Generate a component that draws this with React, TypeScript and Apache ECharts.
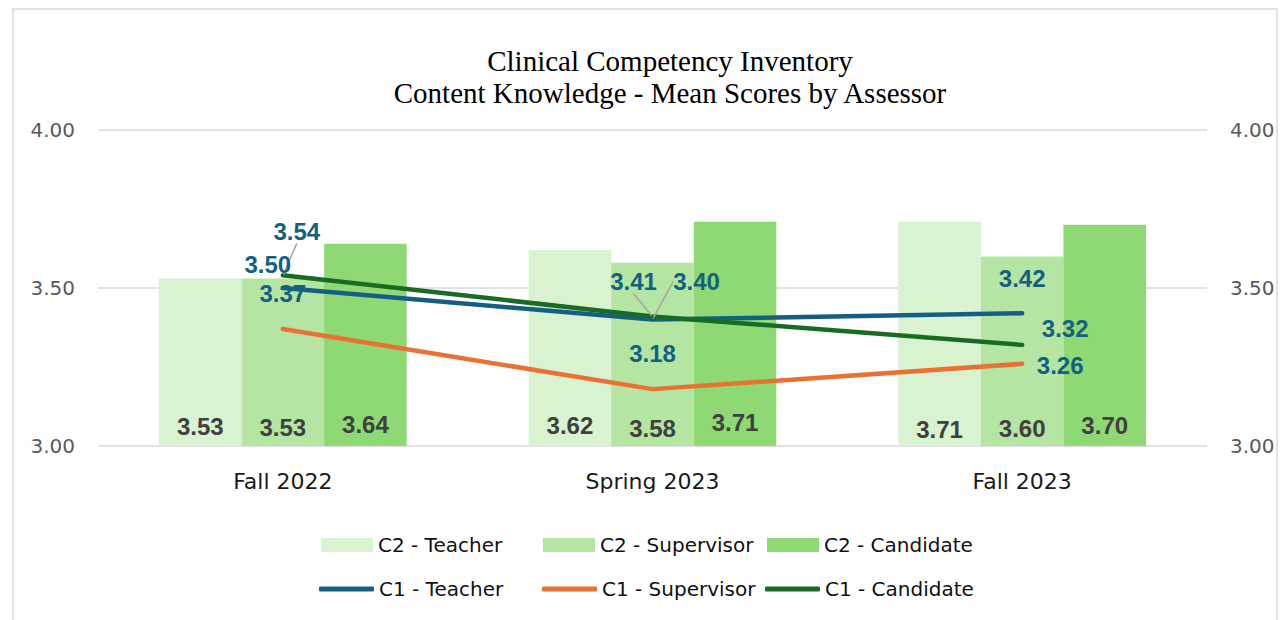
import React, { useEffect, useRef } from "react";
import * as echarts from "echarts";

const categories = ["Fall 2022", "Spring 2023", "Fall 2023"];
const c2Teacher = [3.53, 3.62, 3.71];
const c2Supervisor = [3.53, 3.58, 3.6];
const c2Candidate = [3.64, 3.71, 3.7];
const c1Teacher = [3.5, 3.4, 3.42];
const c1Supervisor = [3.37, 3.18, 3.26];
const c1Candidate = [3.54, 3.41, 3.32];
const titleLines = ["Clinical Competency Inventory", "Content Knowledge - Mean Scores by Assessor"];

// label nudges (dx, dy) relative to the default "top" placement, and which get a leader line
const teacherNudge = [[-15, -6, false], [44, -20, true], [0, -17, false]];
const supervisorNudge = [[0, -18, false], [0, -18, false], [38, 20, false]];
const candidateNudge = [[14, -26, true], [-19, -17, true], [43, 2, false]];
// small vertical nudges of bar value labels
const teacherBarNudge = [0, -1, 3];
const supervisorBarNudge = [1, 2, 2];
const candidateBarNudge = [-2, -4, -1];

const LABEL_FONT = "Liberation Sans";
const LINE_LABEL_COLOR = "#156082";

export default function App() {
  const ref = useRef<HTMLDivElement>(null);
  useEffect(() => {
    const chart = echarts.init(ref.current!, null, { renderer: "svg" });

    const barLabel = {
      show: true,
      position: "insideBottom",
      distance: 8,
      color: "#404040",
      fontFamily: LABEL_FONT,
      fontWeight: "bold",
      fontSize: 24,
      formatter: (p: any) => Number(p.value).toFixed(2),
    };

    const mkBar = (name: string, data: number[], color: string, nudge: number[]) => ({
      name,
      type: "bar",
      data,
      barGap: "0%",
      barCategoryGap: "33%",
      itemStyle: { color },
      label: barLabel,
      labelLayout: (p: any) => ({ dy: nudge[p.dataIndex] }),
      z: 2,
    });

    const mkLine = (name: string, data: number[], color: string, nudge: any[]) => ({
      name,
      type: "line",
      data: data.map((v, i) => ({
        value: v,
        labelLine: {
          show: nudge[i][2],
          lineStyle: { color: "#a6a6a6", width: 1.5 },
          length2: 0,
        },
      })),
      symbol: "circle",
      symbolSize: 2,
      showSymbol: true,
      lineStyle: { color, width: 4.5, cap: "round", join: "round" },
      itemStyle: { color },
      label: {
        show: true,
        position: "top",
        distance: 5,
        color: LINE_LABEL_COLOR,
        opacity: 1,
        fontFamily: LABEL_FONT,
        fontWeight: "bold",
        fontSize: 24,
        formatter: (p: any) => Number(p.value).toFixed(2),
      },
      labelLayout: (p: any) => ({ dx: nudge[p.dataIndex][0], dy: nudge[p.dataIndex][1] }),
      z: 5,
    });

    const legendText = { fontFamily: "DejaVu Sans", fontSize: 20, color: "#111111" };
    const mkLegend = (name: string, left: number, top: number, isLine: boolean) => ({
      data: [name],
      left,
      top,
      padding: 0,
      itemWidth: isLine ? 55 : 52,
      itemHeight: isLine ? 5 : 14,
      icon: isLine ? "roundRect" : "rect",
      textStyle: legendText,
      selectedMode: false,
    });

    chart.setOption({
      animation: false,
      backgroundColor: "#ffffff",
      grid: { left: 98, right: 76, top: 130, bottom: 174, containLabel: false },
      xAxis: {
        type: "category",
        data: categories,
        axisLine: { show: false },
        axisTick: { show: false },
        axisLabel: {
          margin: 24,
          fontFamily: "DejaVu Sans",
          fontSize: 22,
          color: "#1a1a1a",
        },
      },
      yAxis: [
        {
          type: "value",
          min: 3,
          max: 4,
          interval: 0.5,
          axisLine: { show: false },
          axisTick: { show: false },
          splitLine: { lineStyle: { color: "#d9d9d9", width: 1.5 } },
          axisLabel: {
            margin: 23,
            fontFamily: "DejaVu Sans",
            fontSize: 20,
            color: "#595959",
            formatter: (v: number) => v.toFixed(2),
          },
        },
        {
          type: "value",
          min: 3,
          max: 4,
          interval: 0.5,
          position: "right",
          axisLine: { show: false },
          axisTick: { show: false },
          splitLine: { show: false },
          axisLabel: {
            margin: 23,
            fontFamily: "DejaVu Sans",
            fontSize: 20,
            color: "#595959",
            formatter: (v: number) => v.toFixed(2),
          },
        },
      ],
      legend: [
        mkLegend("C2 - Teacher", 321, 535, false),
        mkLegend("C2 - Supervisor", 543, 535, false),
        mkLegend("C2 - Candidate", 767, 535, false),
        mkLegend("C1 - Teacher", 319, 579, true),
        mkLegend("C1 - Supervisor", 542, 579, true),
        mkLegend("C1 - Candidate", 765, 579, true),
      ],
      graphic: [
        {
          type: "rect",
          shape: { x: 13, y: 9, width: 1264, height: 640 },
          style: { fill: "none", stroke: "#d9d9d9", lineWidth: 1.5 },
          silent: true,
        },
        {
          type: "text",
          x: 670,
          y: 61,
          style: {
            text: titleLines[0],
            textAlign: "center",
            textVerticalAlign: "middle",
            fontFamily: "Liberation Serif",
            fontSize: 29,
            fill: "#000000",
          },
        },
        {
          type: "text",
          x: 670,
          y: 93,
          style: {
            text: titleLines[1],
            textAlign: "center",
            textVerticalAlign: "middle",
            fontFamily: "Liberation Serif",
            fontSize: 29,
            fill: "#000000",
          },
        },
      ],
      series: [
        mkBar("C2 - Teacher", c2Teacher, "#d9f2d0", teacherBarNudge),
        mkBar("C2 - Supervisor", c2Supervisor, "#b4e5a2", supervisorBarNudge),
        mkBar("C2 - Candidate", c2Candidate, "#8ed973", candidateBarNudge),
        mkLine("C1 - Teacher", c1Teacher, "#156082", teacherNudge),
        mkLine("C1 - Supervisor", c1Supervisor, "#e97132", supervisorNudge),
        mkLine("C1 - Candidate", c1Candidate, "#196b24", candidateNudge),
      ],
    });
    return () => chart.dispose();
  }, []);
  return (
    <div
      ref={ref}
      style={{ position: "fixed", left: 0, top: 0, width: 1283, height: 620 }}
    />
  );
}
